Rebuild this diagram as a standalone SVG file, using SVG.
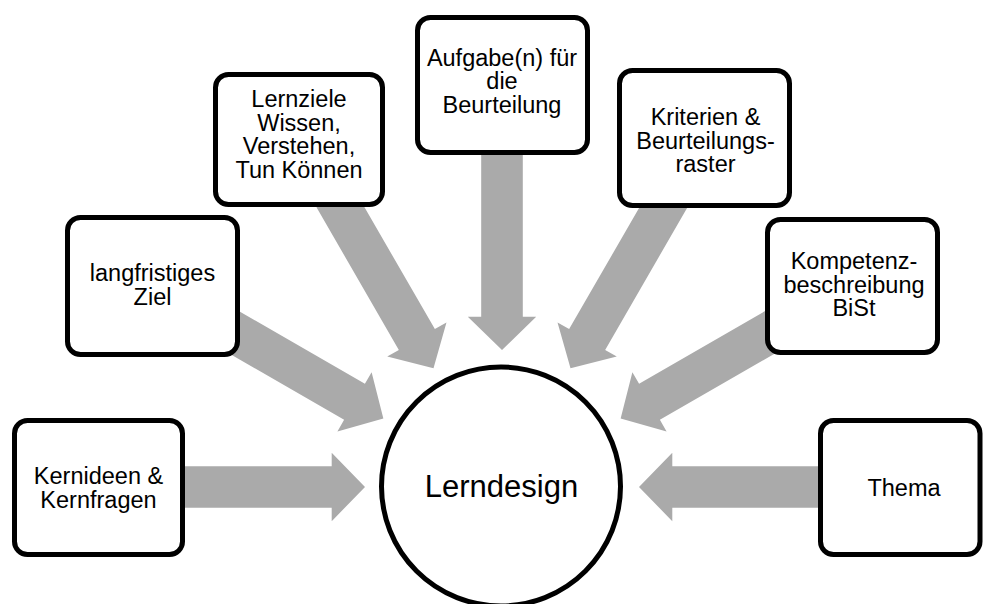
<svg xmlns="http://www.w3.org/2000/svg" xmlns:xlink="http://www.w3.org/1999/xlink" width="983" height="604" viewBox="0 0 983 604">
<style>
.box{fill:#ffffff;stroke:#000000;stroke-width:5}
.t{font-family:"Liberation Sans",Arial,sans-serif;font-size:23.5px;fill:#000000;text-anchor:middle}
.big{font-family:"Liberation Sans",Arial,sans-serif;font-size:31px;fill:#000000;text-anchor:middle}
.arr{fill:#AAAAAA}
</style>
<defs>
<polygon id="ar" class="arr" points="137,0 170.3,-34.2 170.3,-20.8 335,-20.8 335,20.8 170.3,20.8 170.3,34.2"/>
</defs>
<rect width="983" height="604" fill="#ffffff"/>
<g id="connectors">
<use xlink:href="#ar" transform="translate(502,487) rotate(180)"/>
<use xlink:href="#ar" transform="translate(502,487) rotate(-150)"/>
<use xlink:href="#ar" transform="translate(502,487) rotate(-120)"/>
<use xlink:href="#ar" transform="translate(502,487) rotate(-90)"/>
<use xlink:href="#ar" transform="translate(502,487) rotate(-60)"/>
<use xlink:href="#ar" transform="translate(502,487) rotate(-30)"/>
<use xlink:href="#ar" transform="translate(502,487) rotate(0)"/>
</g>
<g id="kernideen">
<rect class="box" x="14.5" y="420.5" width="168" height="134" rx="13"/>
<text class="t" x="98.5" y="484">Kernideen &amp;</text>
<text class="t" x="98.5" y="507.5">Kernfragen</text>
</g>
<g id="langfristiges">
<rect class="box" x="67.5" y="217.5" width="170" height="137" rx="13"/>
<text class="t" x="152.5" y="281">langfristiges</text>
<text class="t" x="152.5" y="305">Ziel</text>
</g>
<g id="lernziele">
<rect class="box" x="215.5" y="74.5" width="167" height="130" rx="13"/>
<text class="t" x="299" y="107">Lernziele</text>
<text class="t" x="299" y="130.5">Wissen,</text>
<text class="t" x="299" y="154">Verstehen,</text>
<text class="t" x="299" y="177.5">Tun Können</text>
</g>
<g id="aufgabe">
<rect class="box" x="417.5" y="17.5" width="170" height="135" rx="13"/>
<text class="t" x="502" y="65.5">Aufgabe(n) für</text>
<text class="t" x="502" y="89">die</text>
<text class="t" x="502" y="112.5">Beurteilung</text>
</g>
<g id="kriterien">
<rect class="box" x="619.5" y="70.5" width="170" height="135" rx="13"/>
<text class="t" x="705.5" y="125">Kriterien &amp;</text>
<text class="t" x="705.5" y="148.5">Beurteilungs-</text>
<text class="t" x="705.5" y="172">raster</text>
</g>
<g id="kompetenz">
<rect class="box" x="767.5" y="219.5" width="170" height="133" rx="13"/>
<text class="t" x="854" y="269">Kompetenz-</text>
<text class="t" x="854" y="292.5">beschreibung</text>
<text class="t" x="854" y="316">BiSt</text>
</g>
<g id="thema">
<rect class="box" x="820.5" y="420.5" width="159.5" height="134" rx="13"/>
<text class="t" x="904" y="495.5">Thema</text>
</g>
<g id="lerndesign">
<circle class="box" cx="501" cy="486.5" r="119.5"/>
<text class="big" x="501.5" y="497">Lerndesign</text>
</g>
</svg>
